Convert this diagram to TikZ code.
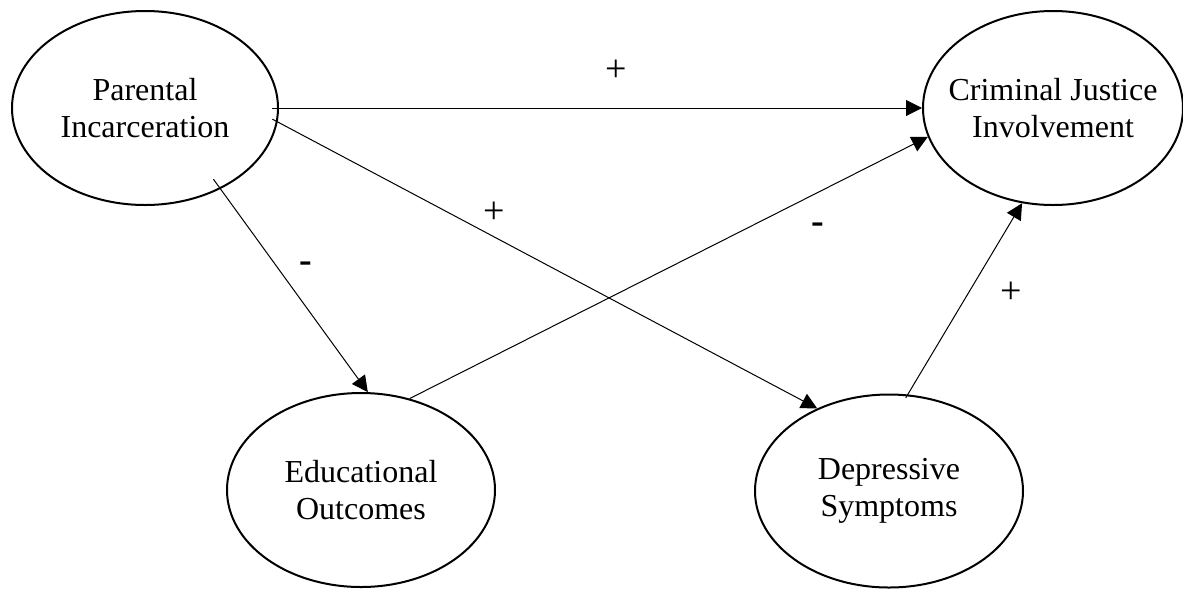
\documentclass[tikz,border=0pt]{standalone}
\usepackage{fontspec}
\setmainfont{Liberation Serif}
\usetikzlibrary{arrows.meta, shapes.geometric}

\begin{document}
\begin{tikzpicture}[x=0.5pt, y=-0.5pt,
  latent/.style={ellipse, draw, line width=1pt, inner sep=0pt, minimum width=134pt, minimum height=97pt},
  lbl/.style={align=center, font=\fontsize{16}{18.5}\selectfont},
  effect/.style={-{Triangle[length=8pt,width=8pt]}, line width=0.5pt},
  sign/.style={inner sep=0pt, font=\fontsize{19}{21}\selectfont}]
\useasboundingbox (0,0) rectangle (1183,590);

\node[latent, minimum width=133pt, label={[lbl]center:Parental\\Incarceration}] (pi) at (145,108) {};
\node[latent, minimum width=130pt, label={[lbl]center:Criminal Justice\\Involvement}] (cj) at (1053,108) {};
\node[latent, label={[lbl]center:Educational\\Outcomes}] (edu) at (361,490) {};
\node[latent, minimum height=96.5pt, label={[lbl]center:Depressive\\Symptoms}] (dep) at (889,491) {};

\draw[effect, shorten <=-3.5pt] (pi.east) -- (cj.west);
\draw[effect, shorten <=-3pt] (pi.-6) -- (dep.131);
\draw[effect, shorten <=-6pt] (pi.-47) -- (edu.86);
\draw[effect] (edu.62) -- (cj.193);
\draw[effect, shorten <=-2pt] (dep.79) -- (cj.252);

\node[sign] (s1) at (616,71) {+};
\node[sign] (s2) at (494,213) {+};
\node[sign] (s3) at (306,267) {\textbf{-}};
\node[sign] (s4) at (818,228) {\textbf{-}};
\node[sign] (s5) at (1011,293) {+};
\end{tikzpicture}
\end{document}
